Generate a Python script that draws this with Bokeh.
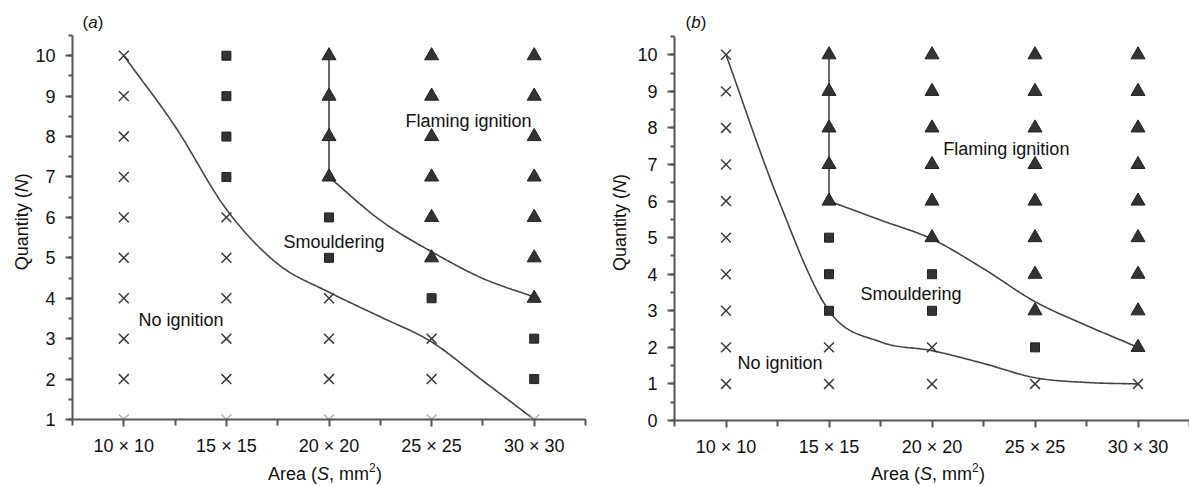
import numpy as np
from bokeh.plotting import figure
from bokeh.layouts import row
from bokeh.models import FixedTicker, Label, Range1d, BoxAnnotation
from bokeh.embed import file_html
from bokeh.resources import INLINE

# Square sample sizes on the x axis (positions 1..5)
AREAS = ["10 × 10", "15 × 15", "20 × 20", "25 × 25", "30 × 30"]
QUANTITIES = list(range(1, 11))

# Result for each area (row) and quantity N = 1..10 (character):
# "N" no ignition, "S" smouldering, "F" flaming ignition
OUTCOME_A = ["NNNNNNNNNN", "NNNNNNSSSS", "NNNNSSFFFF", "NNNSFFFFFF", "NSSFFFFFFF"]
OUTCOME_B = ["NNNNNNNNNN", "NNSSSFFFFF", "NNSSFFFFFF", "NSFFFFFFFF", "NFFFFFFFFF"]

# Regime boundaries (area position, N)
A_LOWER_X = [1, 1.5, 2, 2.5, 3, 3.5, 4, 4.5, 5]
A_LOWER_Y = [10, 8.25, 6.2, 4.85, 4.15, 3.54, 2.92, 1.96, 1.0]
A_UPPER_X = [3, 3, 3.5, 4, 4.5, 5]
A_UPPER_Y = [10, 7, 5.93, 5.15, 4.49, 4.03]

B_LOWER_X = [1, 1.5, 2, 2.5, 3, 3.5, 4, 4.5, 5]
B_LOWER_Y = [10, 6.1, 3.0, 2.15, 1.91, 1.56, 1.17, 1.04, 1.0]
B_UPPER_X = [2, 2, 2.5, 3, 3.5, 4, 4.5, 5]
B_UPPER_Y = [10, 6, 5.48, 4.96, 4.15, 3.25, 2.6, 2.0]

FONT = "Liberation Sans"
INK = "#333333"
AXIS = "#555555"
HEIGHT = 486


def smooth(xs, ys, n=30):
    """Catmull-Rom curve through the boundary knots."""
    P = np.column_stack([xs, ys]).astype(float)
    ext = np.vstack([2 * P[0] - P[1], P, 2 * P[-1] - P[-2]])
    t = np.linspace(0, 1, n, endpoint=False)[:, None]
    h00 = 2 * t**3 - 3 * t**2 + 1
    h10 = t**3 - 2 * t**2 + t
    h01 = -2 * t**3 + 3 * t**2
    h11 = t**3 - t**2
    parts = []
    for i in range(1, len(ext) - 2):
        p0, p1, p2, p3 = ext[i - 1], ext[i], ext[i + 1], ext[i + 2]
        m1 = (p2 - p0) / 2
        m2 = (p3 - p1) / 2
        parts.append(h00 * p1 + h10 * m1 + h01 * p2 + h11 * m2)
    parts.append(P[-1][None, :])
    pts = np.vstack(parts)
    return pts[:, 0], pts[:, 1]


def label(p, text, x, y, xo=0, yo=0, size="18px", style="normal", angle=0.0):
    p.add_layout(Label(x=x, y=y, x_offset=xo, y_offset=yo, text=text,
                       text_font=FONT, text_font_size=size,
                       text_font_style=style, text_color="#111111",
                       text_align="left", text_baseline="middle",
                       angle=angle, level="overlay"))


def panel(letter, outcome, y0, y1, lower, upper, notes, width, box, title):
    # box: pixel edges of the axes box (left, top, right, bottom)
    bl, bt, br, bb = box
    xs = (br - bl) / 5.0
    ys = (bb - bt) / (y1 - y0)
    p = figure(width=width, height=HEIGHT, output_backend="svg",
               toolbar_location=None,
               x_range=Range1d(0.5 - bl / xs, 5.5 + (width - br) / xs),
               y_range=Range1d(y0 - (HEIGHT - bb) / ys, y1 + bt / ys),
               min_border=0, min_border_left=0, min_border_right=0,
               min_border_top=0, min_border_bottom=0)
    p.outline_line_color = None
    p.xgrid.grid_line_color = None
    p.ygrid.grid_line_color = None
    p.background_fill_color = "white"
    p.border_fill_color = "white"

    p.xaxis.fixed_location = y0
    p.yaxis.fixed_location = 0.5
    p.xaxis.bounds = (0.5, 5.5)
    p.yaxis.bounds = (y0, y1)
    p.xaxis.ticker = FixedTicker(ticks=[1, 2, 3, 4, 5],
                                 minor_ticks=[0.5 + k for k in range(6)])
    p.xaxis.major_label_overrides = {i + 1: a for i, a in enumerate(AREAS)}
    p.yaxis.ticker = FixedTicker(ticks=list(range(int(y0), 11)),
                                 minor_ticks=[y0 + 0.5 * k for k in range(int((y1 - y0) * 2) + 1)])
    for ax in (p.xaxis, p.yaxis):
        ax.level = "overlay"
        ax.axis_line_color = AXIS
        ax.axis_line_width = 2
        ax.major_tick_line_color = AXIS
        ax.major_tick_line_width = 2
        ax.minor_tick_line_color = AXIS
        ax.minor_tick_line_width = 2
        ax.major_tick_in = 0
        ax.minor_tick_in = 0
        ax.major_tick_out = 7
        ax.major_label_text_font = FONT
        ax.major_label_text_font_size = "18px"
        ax.major_label_text_color = "#111111"
    p.xaxis.minor_tick_out = 6
    p.yaxis.minor_tick_out = 4
    p.xaxis.major_label_standoff = 9
    p.yaxis.major_label_standoff = 10

    # boundaries
    lx, ly = smooth(*lower)
    p.line(lx, ly, line_color="#444444", line_width=1.6)
    ux, uy = upper
    p.line(ux[:2], uy[:2], line_color="#444444", line_width=1.6)
    cx, cy = smooth(ux[1:], uy[1:])
    p.line(cx, cy, line_color="#444444", line_width=1.6)

    # observations
    pts = {"N": ([], []), "S": ([], []), "F": ([], [])}
    for i, col in enumerate(outcome):
        for j, c in enumerate(col):
            pts[c][0].append(i + 1)
            pts[c][1].append(QUANTITIES[j])
    nx, ny = pts["N"]
    edge = [k for k, v in enumerate(ny) if v == y0]
    inner = [k for k, v in enumerate(ny) if v != y0]
    p.scatter([nx[k] for k in inner], [ny[k] for k in inner], marker="x",
              size=14, line_color="#3a3a3a", line_width=1.5)
    if edge:
        p.scatter([nx[k] for k in edge], [ny[k] for k in edge], marker="x",
                  size=14, line_color="#b0b0b0", line_width=1.5)
    p.scatter(*pts["S"], marker="square", size=9, fill_color=INK,
              line_color="#222222", line_width=1)
    p.scatter(*pts["F"], marker="triangle", size=14, fill_color=INK,
              line_color="#222222", line_width=1)

    # marks sitting on the x axis show only above it
    p.add_layout(BoxAnnotation(top=y0, fill_color="white", fill_alpha=1.0,
                               line_color=None))

    for text, x, y in notes:
        label(p, text, x, y)

    # panel letter
    lx0, ly0, tx, ty, ay = title
    label(p, "(", 0.5, y1, xo=lx0, yo=ly0, size="17px")
    label(p, letter, 0.5, y1, xo=lx0 + 5.7, yo=ly0, size="17px", style="italic")
    label(p, ")", 0.5, y1, xo=lx0 + 15.2, yo=ly0, size="17px")

    # x axis title: Area (S, mm²)
    label(p, "Area (", 3, y0, xo=-61, yo=ay)
    label(p, "S", 3, y0, xo=-12, yo=ay, style="italic")
    label(p, ", mm", 3, y0, xo=0, yo=ay)
    label(p, "2", 3, y0, xo=40, yo=ay + 6, size="12px")
    label(p, ")", 3, y0, xo=47, yo=ay)

    # y axis title: Quantity (N)
    a = np.pi / 2
    label(p, "Quantity (", 0.5, ty, xo=tx, yo=0, angle=a)
    label(p, "N", 0.5, ty, xo=tx, yo=78, angle=a, style="italic")
    label(p, ")", 0.5, ty, xo=tx, yo=91, angle=a)
    return p


pa = panel("a", OUTCOME_A, 1, 10.5, (A_LOWER_X, A_LOWER_Y), (A_UPPER_X, A_UPPER_Y),
           [("Flaming ignition", 3.745, 8.39), ("Smouldering", 2.556, 5.39),
            ("No ignition", 1.143, 3.46)],
           595, (72, 35, 585, 419), (10, 13, -51, 4.69, -54))
pb = panel("b", OUTCOME_B, 0, 10.5, (B_LOWER_X, B_LOWER_Y), (B_UPPER_X, B_UPPER_Y),
           [("Flaming ignition", 3.11, 7.43), ("Smouldering", 2.306, 3.47),
            ("No ignition", 1.112, 1.56)],
           594, (79, 36, 594, 420), (11, 14, -55, 4.09, -53))

layout = row(pa, pb, spacing=0)
open("out.html", "w").write(file_html(layout, INLINE))
